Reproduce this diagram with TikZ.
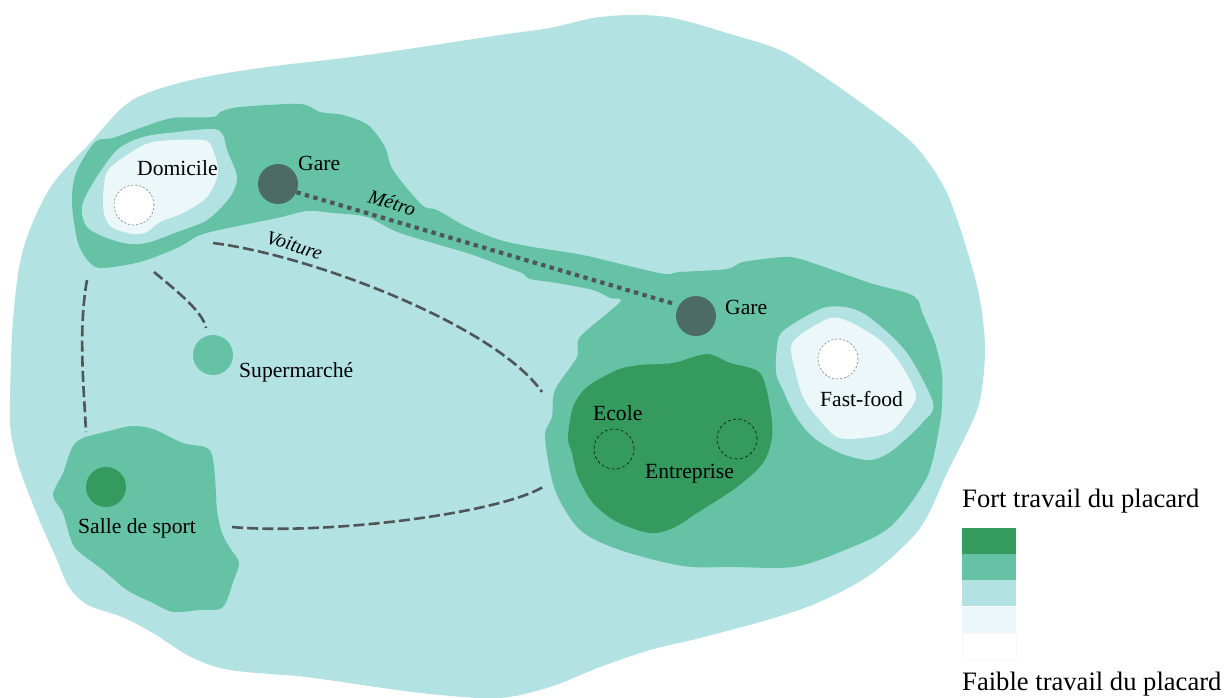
\documentclass[tikz,border=0pt]{standalone}
\usepackage{fontspec}
\setmainfont{Liberation Serif}
\definecolor{cdark}{HTML}{359A5D}
\definecolor{cmid}{HTML}{66C2A5}
\definecolor{clight}{HTML}{B2E2E2}
\definecolor{cpale}{HTML}{EBF7F9}
\definecolor{cgare}{HTML}{4C6B64}
\definecolor{croad}{HTML}{4F5658}
\tikzset{
  blob/.style={draw=none,fill=#1},
  spot/.style={circle,draw=none,fill=#1,minimum size=40,inner sep=0},
  ringw/.style={circle,fill=white,draw=black!50,line width=.6,dash pattern=on 2.2 off 1.8,minimum size=40,inner sep=0},
  ringd/.style={circle,draw=black!75!cdark,line width=.7,dash pattern=on 3 off 2.4,minimum size=40,inner sep=0},
  road/.style={draw=croad,line width=2.6,dash pattern=on 11 off 4.2},
  rail/.style={draw=croad,line width=4.2,dash pattern=on 4.4 off 4.4},
  lab/.style={anchor=base west,inner sep=0,text=black,font=\fontsize{21.6}{24}\selectfont},
  ilab/.style={anchor=base west,inner sep=0,text=black,font=\fontsize{20}{24}\selectfont\itshape,rotate=-17},
  leg/.style={anchor=base west,inner sep=0,text=black,font=\fontsize{26.6}{30}\selectfont},
  swatch/.style={draw=none,fill=#1,minimum width=54,minimum height=26.2,inner sep=0,anchor=north west}
}
\begin{document}
\begin{tikzpicture}[x=1pt,y=-1pt,line join=round]
\useasboundingbox (0,0) rectangle (1224,697);
% outer zone
\fill[clight] plot[smooth cycle,tension=.55] coordinates {
(10,400)(13,320)(23,250)(50,188)(90,143)(123,107)(150,92)(200,78)(267,67)(367,55)(500,35)(550,28)(593,18)(633,15)(673,18)(727,33)(780,50)(817,72)(860,102)(900,132)(923,155)(947,193)(967,250)(980,300)(985,350)(980,400)(967,433)(947,473)(927,517)(907,543)(867,577)(817,603)(767,620)(700,638)(650,650)(600,667)(550,687)(500,698)(440,695)(383,688)(306,677)(230,670)(191,657)(153,633)(122,617)(88,605)(69,587)(57,560)(38,517)(19,467)(11,433)};
% middle zone: home, link, work
\fill[cmid] plot[smooth cycle,tension=.5] coordinates {
(72,203)(76,173)(95,142)(113,138)(143,127)(173,118)(213,117)(220,112)(240,107)(300,104)(320,112)(343,115)(368,125)(385,147)(393,170)(422,205)(437,210)(467,227)(500,240)(533,247)(583,255)(633,267)(665,274)(680,272)(727,269)(743,262)(783,257)(800,259)(833,270)(870,283)(907,293)(918,300)(922,312)(935,343)(942,373)(942,400)(940,423)(927,477)(890,527)(840,552)(793,567)(733,567)(683,566)(620,550)(580,530)(555,490)(545,437)(552,417)(555,390)(577,357)(580,337)(620,302)(610,298)(593,290)(557,283)(530,279)(522,273)(500,265)(467,253)(400,233)(367,217)(333,213)(307,211)(277,218)(233,227)(200,235)(177,248)(140,262)(103,268)(90,263)(78,243)};
% home holes
\fill[clight] plot[smooth cycle,tension=.5] coordinates {
(82,207)(93,183)(117,150)(143,137)(177,132)(213,129)(223,135)(227,150)(237,177)(230,197)(207,220)(177,232)(150,242)(130,244)(107,238)(87,227)};
\fill[cpale] plot[smooth cycle,tension=.5] coordinates {
(103,200)(107,172)(127,155)(153,142)(203,140)(213,150)(218,173)(207,197)(183,213)(160,222)(147,232)(133,234)(113,228)(105,217)};
% gym blob
\fill[cmid] plot[smooth cycle,tension=.5] coordinates {
(53,495)(63,473)(72,448)(83,438)(113,430)(132,426)(153,429)(183,443)(205,447)(212,455)(215,477)(217,510)(222,533)(230,548)(239,563)(233,582)(227,600)(220,609)(200,610)(173,612)(153,603)(127,590)(103,570)(77,550)(70,537)(63,513)};
% work core
\fill[cdark] plot[smooth cycle,tension=.5] coordinates {
(568,438)(573,407)(587,387)(617,370)(640,365)(673,363)(707,354)(730,363)(760,373)(770,407)(772,437)(763,463)(737,487)(697,513)(673,528)(650,533)(617,522)(593,503)(578,477)(572,453)};
% fast-food holes
\fill[clight] plot[smooth cycle,tension=.5] coordinates {
(776,372)(778,340)(787,328)(823,308)(850,308)(873,320)(907,353)(933,403)(923,422)(893,450)(870,460)(840,453)(813,437)(795,415)(783,390)};
\fill[cpale] plot[smooth cycle,tension=.5] coordinates {
(791,347)(800,335)(830,318)(850,322)(880,340)(900,363)(916,395)(907,413)(890,432)(863,438)(837,437)(817,417)(803,397)(795,370)};
% sites
\node[ringw] (domicile) at (134,205) {};
\node[ringw] (fastfood) at (838,359) {};
\node[ringd] (ecole) at (614,449) {};
\node[ringd] (entreprise) at (737,439) {};
\node[spot=cgare] (gareL) at (278,184) {};
\node[spot=cgare] (gareR) at (696,316) {};
\node[spot=cmid] (super) at (213,355) {};
\node[spot=cdark] (salle) at (106,487) {};
% free ends of the roads
\coordinate (voitA) at (213,243);
\coordinate (voitB) at (542,392);
\coordinate (supA) at (154,272);
\coordinate (supB) at (206,328);
\coordinate (salA) at (87,280);
\coordinate (salB) at (86,432);
\coordinate (botA) at (232,527);
\coordinate (botB) at (543,487);
% connectors
\draw[rail,shorten >=6] (gareL.-24) -- (gareR.148);
\draw[road] (voitA) .. controls (310,255) and (495,325) .. (voitB);
\draw[road] (supA) .. controls (178,292) and (203,312) .. (supB);
\draw[road] (salA) .. controls (78,330) and (84,390) .. (salB);
\draw[road] (botA) .. controls (320,535) and (495,515) .. (botB);
% labels
\node[lab] (tDom) at (137,175) {Domicile};
\node[lab] (tGL) at (298,170) {Gare};
\node[lab] (tGR) at (725,314) {Gare};
\node[lab] (tSup) at (239,377) {Supermarché};
\node[lab] (tSal) at (78,533) {Salle de sport};
\node[lab] (tEco) at (593,420) {Ecole};
\node[lab] (tEnt) at (645,478) {Entreprise};
\node[lab] (tFF) at (820,406) {Fast-food};
\node[ilab] (tMet) at (367,202) {Métro};
\node[ilab] (tVoi) at (265,243) {Voiture};
% legend
\node[leg] (tFort) at (962,507) {Fort travail du placard};
\node[swatch=cdark] (s1) at (962,528) {};
\node[swatch=cmid] (s2) at (962,554) {};
\node[swatch=clight] (s3) at (962,580) {};
\node[swatch=cpale] (s4) at (962,607) {};
\node[swatch=white,draw=black!3] (s5) at (962,633) {};
\node[leg] (tFaible) at (962,690) {Faible travail du placard};
\end{tikzpicture}
\end{document}
